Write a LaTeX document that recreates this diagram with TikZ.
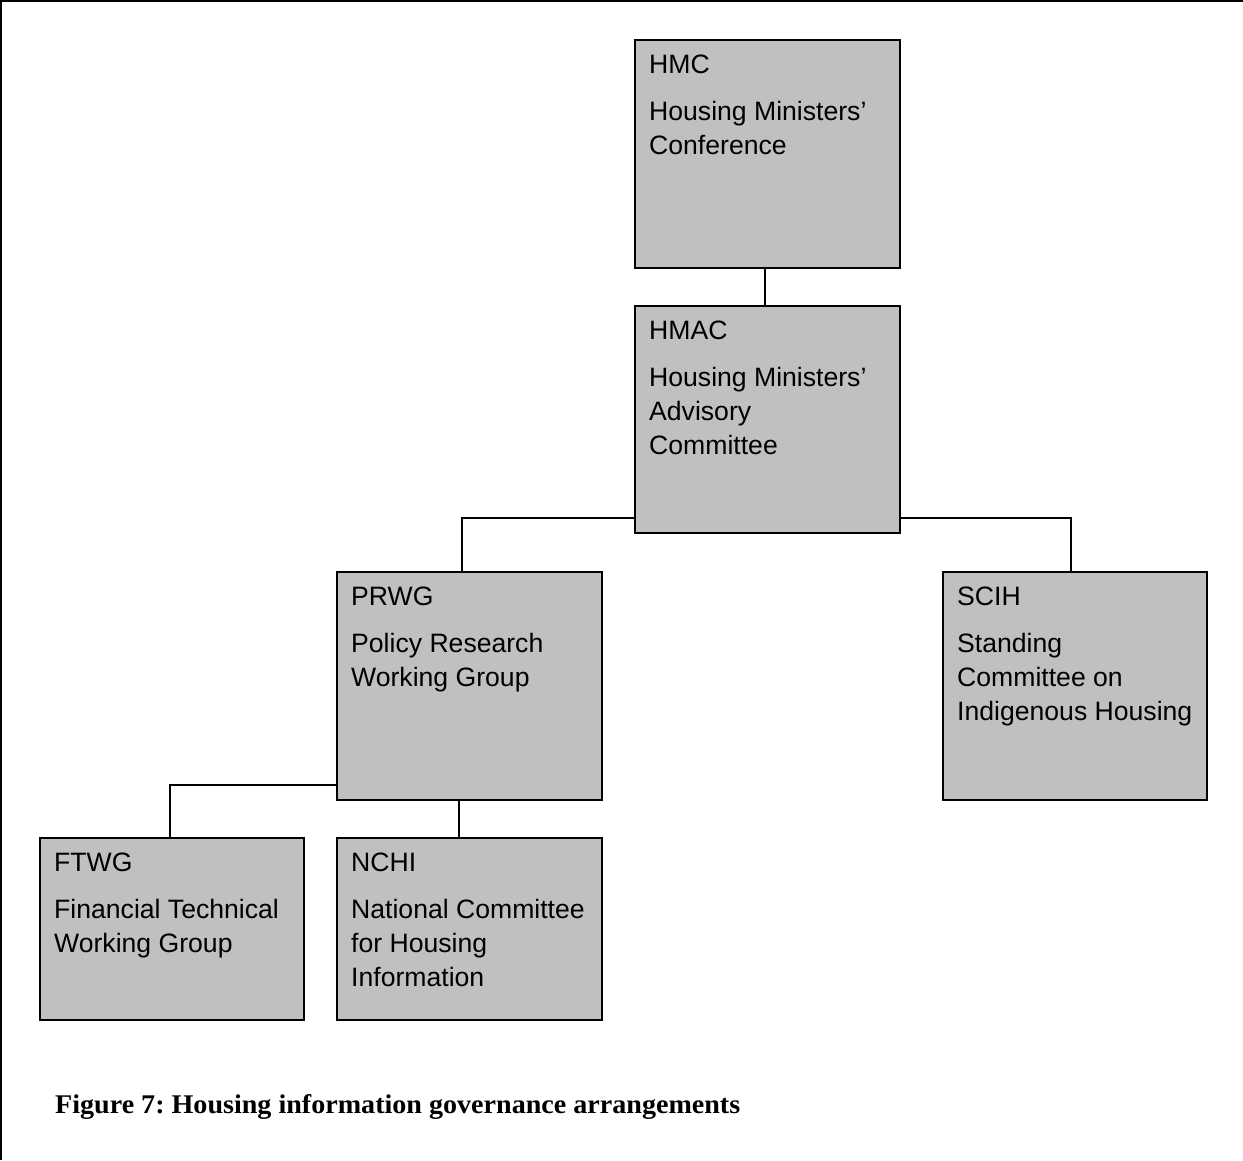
\documentclass[tikz,border=0pt]{standalone}
\usepackage{fontspec}
\setmainfont{Liberation Sans}
\newfontfamily\capfont{Liberation Serif}
\usetikzlibrary{calc}
\definecolor{boxgray}{HTML}{C0C0C0}
\newcommand\orgtext[2]{\parbox[t]{400pt}{\fontsize{26.6pt}{34pt}\selectfont #1\\[13pt]#2}}
\begin{document}
\begin{tikzpicture}[x=1pt,y=-1pt,
  orgbox/.style={draw=black, line width=2pt, fill=boxgray, inner sep=0pt, anchor=north west},
  orglabel/.style={anchor=base west, inner sep=0pt, text=black},
  conn/.style={draw=black, line width=1.4pt}]
\useasboundingbox (0,0) rectangle (1243,1160);
\fill[white] (0,0) rectangle (1243,1160);
\draw[line width=2.4pt] (1243,1.2) -- (1.2,1.2) -- (1.2,1160);
% boxes
\node[orgbox, minimum width=265pt, minimum height=228pt] (hmc)  at (634,39)  {};
\node[orgbox, minimum width=265pt, minimum height=227pt] (hmac) at (634,305) {};
\node[orgbox, minimum width=265pt, minimum height=228pt] (prwg) at (336,571) {};
\node[orgbox, minimum width=264pt, minimum height=228pt] (scih) at (942,571) {};
\node[orgbox, minimum width=264pt, minimum height=182pt] (ftwg) at (39,837)  {};
\node[orgbox, minimum width=265pt, minimum height=182pt] (nchi) at (336,837) {};
% texts
\node[orglabel] (hmct)  at ($(hmc.north west)+(15,34)$)  {\orgtext{HMC}{Housing Ministers’\\Conference}};
\node[orglabel] (hmact) at ($(hmac.north west)+(15,34)$) {\orgtext{HMAC}{Housing Ministers’\\Advisory\\Committee}};
\node[orglabel] (prwgt) at ($(prwg.north west)+(15,34)$) {\orgtext{PRWG}{Policy Research\\Working Group}};
\node[orglabel] (sciht) at ($(scih.north west)+(15,34)$) {\orgtext{SCIH}{Standing\\Committee on\\Indigenous Housing}};
\node[orglabel] (ftwgt) at ($(ftwg.north west)+(15,34)$) {\orgtext{FTWG}{Financial Technical\\Working Group}};
\node[orglabel] (ncht)  at ($(nchi.north west)+(15,34)$) {\orgtext{NCHI}{National Committee\\for Housing\\Information}};
% connectors
\draw[conn] ($(hmc.south west)+(131,0)$) -- ($(hmac.north west)+(131,0)$);
\draw[conn] ($(hmac.south west)+(0,-16)$) -| ($(prwg.north west)+(126,0)$);
\draw[conn] ($(hmac.south east)+(0,-16)$) -| ($(scih.north west)+(129,0)$);
\draw[conn] ($(prwg.south west)+(0,-16)$) -| ($(ftwg.north west)+(131,0)$);
\draw[conn] ($(prwg.south west)+(123,0)$) -- ($(nchi.north west)+(123,0)$);
% caption
\node[anchor=base west, inner sep=0pt] (caption) at (55,1113) {\resizebox{685pt}{19pt}{\frenchspacing\capfont\bfseries Figure 7: Housing information governance arrangements}};
\end{tikzpicture}
\end{document}
